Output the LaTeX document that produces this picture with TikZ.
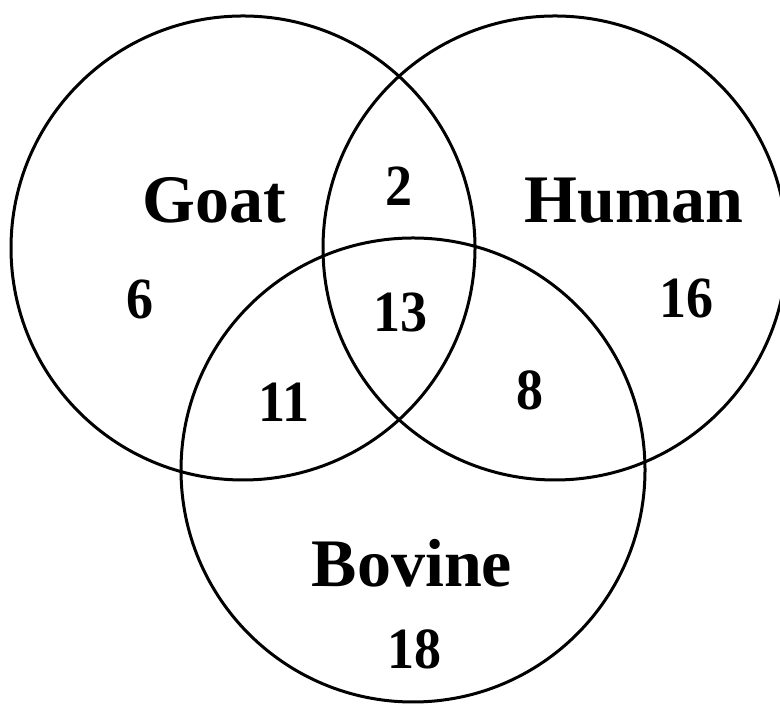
\documentclass[tikz,border=0pt]{standalone}
\usepackage{fontspec}
\setmainfont{Liberation Serif}

\begin{document}
\begin{tikzpicture}[x=.75pt,y=.75pt,
  set/.style={draw,circle,line width=2.25pt,inner sep=0pt,minimum size=348pt},
  lab/.style={anchor=base,inner sep=0pt,font=\fontsize{51}{51}\selectfont\bfseries},
  num/.style={inner sep=0pt,transform shape,yscale=1.08,font=\fontsize{40.5}{40.5}\selectfont\bfseries}]
  \useasboundingbox (0,0) rectangle (780,705);
  \node[set] (goat)   at (243,457) {};
  \node[set] (human)  at (555,457) {};
  \node[set] (bovine) at (413,235) {};
  \node[lab] (lgoat)   at (214,482) {Goat};
  \node[lab] (lhuman)  at (634,482) {Human};
  \node[lab] (lbovine) at (412,118) {Bovine};
  \foreach \x/\y/\t in {140/406/6,399/519/2,400/393/13,686/407/16,284/303/11,530/315/8,414/56/18}
    {\node[num] (n\t) at (\x,\y) {\t};}
\end{tikzpicture}
\end{document}
